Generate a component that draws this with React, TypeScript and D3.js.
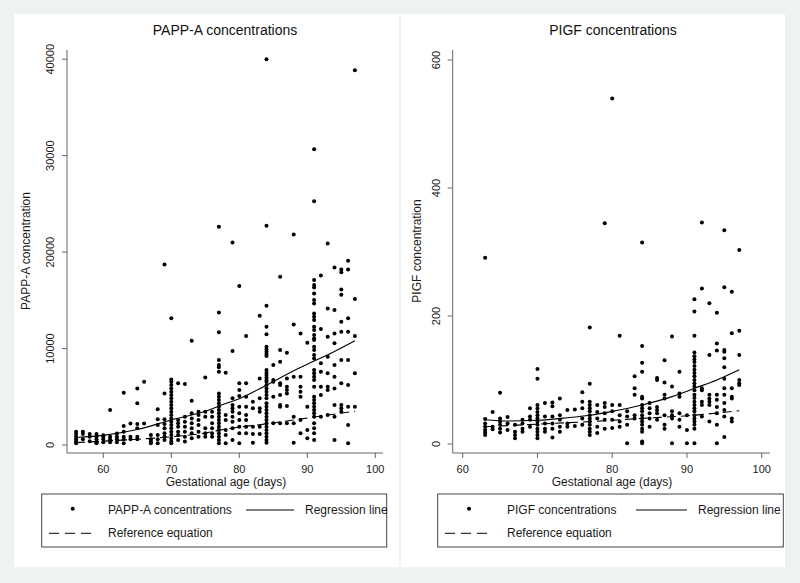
import React from "react";
import * as d3 from "d3";

const FONT = "'Liberation Sans', Arial, Helvetica, sans-serif";

// ---------- PAPP-A data (gestational day columns) ----------
const pappaDays = [56,57,58,59,60,61,62,63,64,65,66,67,68,69,70,71,72,73,74,75,76,77,78,79,80,81,82,83,84,85,86,87,88,89,90,91,92,93,94,95,96,97];
const pappaValues: number[][] = [
  [1380,1140,860,590,170,350],
  [1380,1140,600],
  [1140,860,400],
  [1140,860,590,280,170],
  [860,590,280,1000],
  [3630,860,590,280],
  [860,590,280,1200],
  [5420,1970,1380,860,590,170],
  [2240,860,590],
  [5870,4320,2180,1730,860,590],
  [6560,2240],
  [1040,590,170,350],
  [3700,2660,2070,1040,590,170],
  [18720,5350,2660,2180,1730,1210,860,520],
  [13130,6800,6560,6220,5870,5520,5180,4840,4490,4150,3800,3450,3110,2760,2420,2070,1730,1380,1040,690,350,170],
  [6390,2590,2250,1900,1380,1040,520],
  [6320,2940,2420,1900,1380,860,350],
  [10810,4590,3280,2760,2250,1730,1210,690],
  [3450,3110,2590,2070,1380,860],
  [7010,3450,2940,1730,1210,860],
  [3450,2940,2250,1730,1210,860],
  [22620,13750,11680,8800,8290,8050,7600,5350,5010,4660,4320,3970,3630,3280,2940,2590,2250,1900,1560,1210,860,520,170],
  [7500,3110,2590,1560,1040,170],
  [21000,9740,4840,4150,3800,3450,2940,2420,1730,520],
  [16480,6390,5700,5080,3970,3280,2590,1900,1210,170],
  [11300,6390,5010,3970,3110,2590,1900,1210],
  [4490,3800,1900,1140,240],
  [13400,6900,4840,3800,3450,1900,1140],
  [40000,22730,14440,12260,11470,10190,9910,9670,9430,9220,7770,7500,7250,7010,6740,6560,6220,5870,5520,5180,4840,4320,3970,3630,3280,2940,2590,2250,1900,1560,1210,860,520,240],
  [8290,6740,6560,5010,2250],
  [17440,9840,8640,6390,6220,5180,4150,3970,2250],
  [9570,6900,6040,5700,5350,4040,2250],
  [21830,12500,7080,2940,2250,240],
  [11570,7080,6040,5520,5010,2590,1210],
  [10600,3970,1560,690],
  [30670,25280,17100,16580,16340,15720,15030,14680,13640,13300,12950,12260,11920,11400,11050,10880,10190,9840,9330,8980,7770,7430,7080,6740,6040,5010,4660,4320,3970,3630,3280,2940,2250,1730,1210,520],
  [17580,12020,8470,7600,6040,5180,2940],
  [20900,14160,11230,9150,7430,6040,5700,3110],
  [18400,13990,11570,10540,8290,7080,5870,4150,2940,520],
  [18200,17900,16130,15570,12780,11740,8810,6390,4150,3800,3450],
  [19100,18200,13130,11740,8810,6220,3970,2070,170],
  [38860,15130,11300,7430,3970],
];
const pappaFitDays = [56,60,65,70,75,78,80,84,88,91,94,97];
const pappaFitValues = [780,1000,1600,2600,3500,4300,4800,6200,7700,8700,9700,10800];
const pappaRefDays = [56,60,65,70,75,78,84,91,97];
const pappaRefValues = [250,400,600,850,1250,1650,2200,2900,3500];
const pappaYTicks = [0,10000,20000,30000,40000];

// ---------- PlGF data ----------
const pigfDays = [63,64,65,66,67,68,69,70,71,72,73,74,75,76,77,78,79,80,81,82,83,84,85,86,87,88,89,90,91,92,93,94,95,96,97];
const pigfValues: number[][] = [
  [291,39,32,27,22,18,14],
  [50,27,23],
  [80,40,35,30,24,18],
  [42,32,22],
  [30,19,14,9],
  [38,32,24,19],
  [56,43,38,27],
  [117,102,61,56,50,45,40,35,30,24,19,14,9],
  [64,43,32,24,19],
  [65,59,43,32,24,10],
  [71,45,38,27,19],
  [53,32,27],
  [54,28],
  [81,66,56,40,30],
  [182,94,66,61,56,51,45,40,35,30,24,19,14],
  [61,50,40,27,17],
  [345,64,58,48,38,24],
  [540,61,51,38,25],
  [169,61,45,35,27],
  [51,43,30,1],
  [106,87,77,45,40],
  [315,153,127,113,74,71,61,56,51,45,40,35,30,24,19,4,1],
  [64,56,48,40,27],
  [103,100,58,53,48,38],
  [131,96,77,71,45,30,24],
  [168,90,51,45,40,1],
  [113,79,74,48,38,27],
  [45,22,1],
  [226,207,169,143,137,132,128,122,116,111,106,100,95,90,84,77,72,66,61,56,51,45,40,35,30,24,1],
  [346,243,87,84,66,61,43],
  [220,139,77,71,66,61,35],
  [205,157,146,77,69,58,48,30,1],
  [334,245,147,144,134,120,102,87,77,64,53,43,11],
  [238,173,87,74,71,40,35],
  [303,177,139,100,95,92],
];
const pigfFitDays = [63,66,70,74,77,80,84,88,91,94,97];
const pigfFitValues = [38,36,37,41,45,51,61,74,87,100,116];
const pigfRefDays = [63,70,77,84,91,97];
const pigfRefValues = [27,31,35,40,45,52];
const pigfYTicks = [0,200,400,600];

const xTicks = [60,70,80,90,100];

type PanelProps = {
  title: string; yLabel: string; legendLabel: string;
  days: number[]; values: number[][];
  fitDays: number[]; fitValues: number[];
  refDays: number[]; refValues: number[];
  yTicks: number[]; yMax: number;
  L: any;
};

function Panel(p: PanelProps) {
  const L = p.L;
  const x = d3.scaleLinear().domain([60, 100]).range([L.x60, L.x100]);
  const y = d3.scaleLinear().domain([0, p.yMax]).range([L.y0, L.yMaxPx]);
  const line = d3.line<[number, number]>().x(d => x(d[0])).y(d => y(d[1])).curve(d3.curveMonotoneX);
  const fit = line(p.fitDays.map((d, i) => [d, p.fitValues[i]] as [number, number])) || "";
  const ref = line(p.refDays.map((d, i) => [d, p.refValues[i]] as [number, number])) || "";
  const pts: [number, number][] = [];
  p.days.forEach((d, i) => p.values[i].forEach(v => pts.push([d, v])));
  const axisCol = "#666";
  const lg = L.legend;
  return (
    <g fontFamily={FONT}>
      <rect x={L.panelX} y={14} width={L.panelW} height={553} fill="#fff" />
      <text x={L.titleX} y={35} textAnchor="middle" fontSize={14} fill="#111">{p.title}</text>
      {/* y axis */}
      <line x1={L.axisX} x2={L.axisX} y1={50} y2={453} stroke={axisCol} strokeWidth={1} />
      {p.yTicks.map(t => (
        <g key={"y" + t}>
          <line x1={L.axisX - 5} x2={L.axisX} y1={y(t)} y2={y(t)} stroke={axisCol} />
          <text x={L.axisX - 13} y={y(t)} transform={`rotate(-90 ${L.axisX - 13} ${y(t)})`} textAnchor="middle" fontSize={11} fill="#1a1a1a">{t}</text>
        </g>
      ))}
      <text x={L.yLabelX} y={251} transform={`rotate(-90 ${L.yLabelX} 251)`} textAnchor="middle" fontSize={12} fill="#1a1a1a">{p.yLabel}</text>
      {/* x axis */}
      <line x1={L.axisX} x2={L.axisXEnd} y1={453} y2={453} stroke={axisCol} strokeWidth={1} />
      {xTicks.map(t => (
        <g key={"x" + t}>
          <line x1={x(t)} x2={x(t)} y1={453} y2={458} stroke={axisCol} />
          <text x={x(t)} y={472.5} textAnchor="middle" fontSize={11} fill="#1a1a1a">{t}</text>
        </g>
      ))}
      <text x={L.xLabelX} y={486} textAnchor="middle" fontSize={12} fill="#1a1a1a">Gestational age (days)</text>
      {/* points */}
      {pts.map((d, i) => <circle key={i} cx={x(d[0])} cy={y(d[1])} r={2} fill="#000" />)}
      {/* lines */}
      <path d={fit} fill="none" stroke="#000" strokeWidth={1.1} />
      <path d={ref} fill="none" stroke="#000" strokeWidth={1.1} strokeDasharray="9,5" />
      {/* legend */}
      <rect x={lg.x} y={494} width={lg.w} height={53} fill="#fff" stroke="#444" strokeWidth={1} />
      <circle cx={lg.dotX} cy={508.7} r={2} fill="#000" />
      <text x={lg.textX} y={514.3} fontSize={12} fill="#1a1a1a">{p.legendLabel}</text>
      <line x1={lg.solidX1} x2={lg.solidX2} y1={510} y2={510} stroke="#000" strokeWidth={1} />
      <text x={lg.regX} y={514.3} fontSize={12} fill="#1a1a1a">Regression line</text>
      <line x1={lg.dashX1} x2={lg.dashX2} y1={533.3} y2={533.3} stroke="#000" strokeWidth={1} strokeDasharray="10,6" />
      <text x={lg.textX} y={537} fontSize={12} fill="#1a1a1a">Reference equation</text>
    </g>
  );
}

const leftLayout = {
  panelX: 14, panelW: 386, titleX: 225, axisX: 67, axisXEnd: 383,
  x60: 103.3, x100: 375.3, y0: 445, yMaxPx: 59.2, yLabelX: 30, xLabelX: 226,
  legend: { x: 41.7, w: 345, dotX: 72.7, textX: 108, solidX1: 246, solidX2: 294, regX: 305, dashX1: 49, dashX2: 94 },
};
const rightLayout = {
  panelX: 400, panelW: 385, titleX: 613, axisX: 452.7, axisXEnd: 770,
  x60: 462.7, x100: 761.7, y0: 444, yMaxPx: 60, yLabelX: 421, xLabelX: 612,
  legend: { x: 437.7, w: 345.6, dotX: 469, textX: 507, solidX1: 636, solidX2: 687, regX: 698, dashX1: 445, dashX2: 491 },
};

export default function App() {
  return (
    <svg width={800} height={583} viewBox="0 0 800 583" style={{ position: "absolute", left: 0, top: 0, display: "block" }}>
      <rect x={0} y={0} width={800} height={583} fill="#edf3f2" />
      <Panel title="PAPP-A concentrations" yLabel="PAPP-A concentration" legendLabel="PAPP-A concentrations"
        days={pappaDays} values={pappaValues} fitDays={pappaFitDays} fitValues={pappaFitValues}
        refDays={pappaRefDays} refValues={pappaRefValues} yTicks={pappaYTicks} yMax={40000} L={leftLayout} />
      <Panel title="PIGF concentrations" yLabel="PIGF concentration" legendLabel="PIGF concentrations"
        days={pigfDays} values={pigfValues} fitDays={pigfFitDays} fitValues={pigfFitValues}
        refDays={pigfRefDays} refValues={pigfRefValues} yTicks={pigfYTicks} yMax={600} L={rightLayout} />
      <line x1={400} x2={400} y1={14} y2={567} stroke="#e4e8e8" strokeWidth={1} />
    </svg>
  );
}
